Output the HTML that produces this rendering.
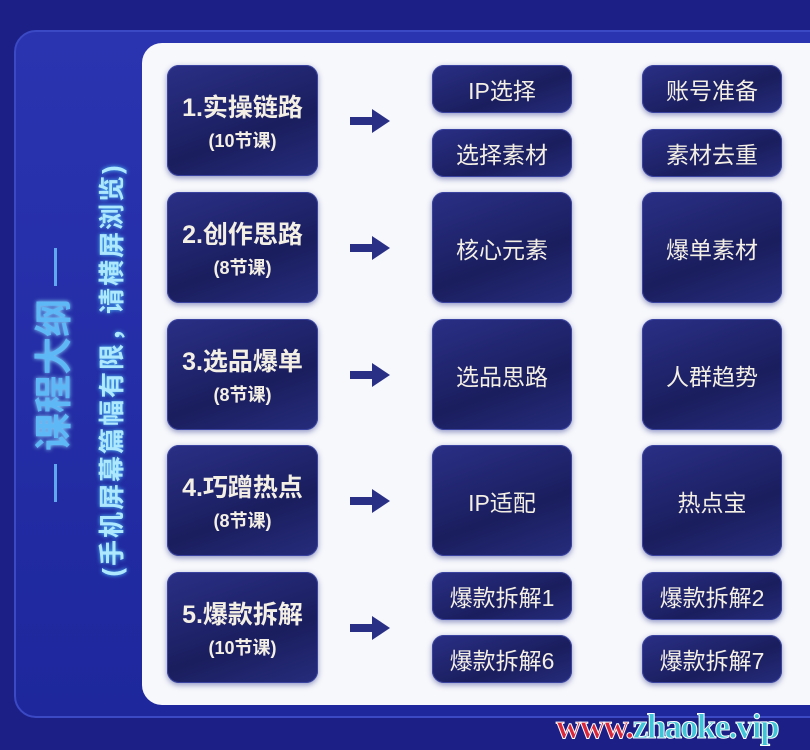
<!DOCTYPE html>
<html><head><meta charset="utf-8"><style>
*{margin:0;padding:0;box-sizing:border-box}
body{width:810px;height:750px;overflow:hidden;background:#1b1f86;font-family:"Liberation Sans","Noto Sans CJK SC",sans-serif;position:relative}
.outer{position:absolute;left:14px;top:30px;width:820px;height:688px;border-radius:22px;background:linear-gradient(180deg,#2a34b0,#1e279c);border:2px solid #3b49c4}
.white{position:absolute;left:142px;top:43px;width:700px;height:662px;border-radius:20px;background:#f7f8fc}
.box{position:absolute;border-radius:12px;background:linear-gradient(160deg,#2a2f86,#1a1e5e 60%,#262c7c);color:#fff;text-align:center;box-shadow:0 2px 6px rgba(40,50,140,.5),inset 0 0 0 1px #3a44a0;display:flex;flex-direction:column;justify-content:center;align-items:center}
.main{left:167px;width:151px;height:111px}
.main b{font-size:25px;font-weight:bold;color:#f4efe4}
.main span{font-size:18px;font-weight:bold;color:#f4efe4;margin-top:3px}
.s{width:140px;font-size:23px;color:#f4efe4}
.arrow{position:absolute;left:350px;width:40px;height:24px}
.vt{position:absolute;transform:rotate(-90deg);transform-origin:center;white-space:nowrap;font-weight:bold}
.wm{position:absolute;left:556px;top:707px;font-family:"Liberation Serif",serif;font-weight:bold;font-size:35px;letter-spacing:-1.5px;-webkit-text-stroke:1px #fff;color:#3ec6d8}
.dash{position:absolute;left:54px;width:3px;height:38px;background:#5fa8f0}
</style></head><body>
<div class="outer"></div>
<div class="white"></div>
<div class="dash" style="top:248px"></div>
<div class="dash" style="top:464px"></div>
<div class="vt" style="left:-145px;top:352px;width:400px;height:46px;line-height:46px;text-align:center;font-size:38px;color:#5fb8f6;text-shadow:0 0 4px #8fdcff">课程大纲</div>
<div class="vt" style="left:-110px;top:354px;width:444px;height:32px;line-height:32px;text-align:center;font-size:26px;letter-spacing:2px;color:#aee8ff;text-shadow:0 0 4px #4fc2ff">(手机屏幕篇幅有限，请横屏浏览)</div>

<div class="box main" style="top:65px"><b>1.实操链路</b><span>(10节课)</span></div>
<div class="box main" style="top:192px"><b>2.创作思路</b><span>(8节课)</span></div>
<div class="box main" style="top:319px"><b>3.选品爆单</b><span>(8节课)</span></div>
<div class="box main" style="top:445px"><b>4.巧蹭热点</b><span>(8节课)</span></div>
<div class="box main" style="top:572px"><b>5.爆款拆解</b><span>(10节课)</span></div>

<svg class="arrow" style="top:109px" viewBox="0 0 40 24"><rect x="0" y="8" width="24" height="8" fill="#2a2f86"/><polygon points="22,0 40,12 22,24" fill="#2a2f86"/></svg>
<svg class="arrow" style="top:236px" viewBox="0 0 40 24"><rect x="0" y="8" width="24" height="8" fill="#2a2f86"/><polygon points="22,0 40,12 22,24" fill="#2a2f86"/></svg>
<svg class="arrow" style="top:363px" viewBox="0 0 40 24"><rect x="0" y="8" width="24" height="8" fill="#2a2f86"/><polygon points="22,0 40,12 22,24" fill="#2a2f86"/></svg>
<svg class="arrow" style="top:489px" viewBox="0 0 40 24"><rect x="0" y="8" width="24" height="8" fill="#2a2f86"/><polygon points="22,0 40,12 22,24" fill="#2a2f86"/></svg>
<svg class="arrow" style="top:616px" viewBox="0 0 40 24"><rect x="0" y="8" width="24" height="8" fill="#2a2f86"/><polygon points="22,0 40,12 22,24" fill="#2a2f86"/></svg>

<div class="box s" style="left:432px;top:65px;height:48px">IP选择</div>
<div class="box s" style="left:642px;top:65px;height:48px">账号准备</div>
<div class="box s" style="left:432px;top:129px;height:48px">选择素材</div>
<div class="box s" style="left:642px;top:129px;height:48px">素材去重</div>
<div class="box s" style="left:432px;top:192px;height:111px">核心元素</div>
<div class="box s" style="left:642px;top:192px;height:111px">爆单素材</div>
<div class="box s" style="left:432px;top:319px;height:111px">选品思路</div>
<div class="box s" style="left:642px;top:319px;height:111px">人群趋势</div>
<div class="box s" style="left:432px;top:445px;height:111px">IP适配</div>
<div class="box s" style="left:642px;top:445px;height:111px">热点宝</div>
<div class="box s" style="left:432px;top:572px;height:48px">爆款拆解1</div>
<div class="box s" style="left:642px;top:572px;height:48px">爆款拆解2</div>
<div class="box s" style="left:432px;top:635px;height:48px">爆款拆解6</div>
<div class="box s" style="left:642px;top:635px;height:48px">爆款拆解7</div>

<div class="wm"><span style="color:#d8263a">www.</span>zhaoke.vip</div>
</body></html>
